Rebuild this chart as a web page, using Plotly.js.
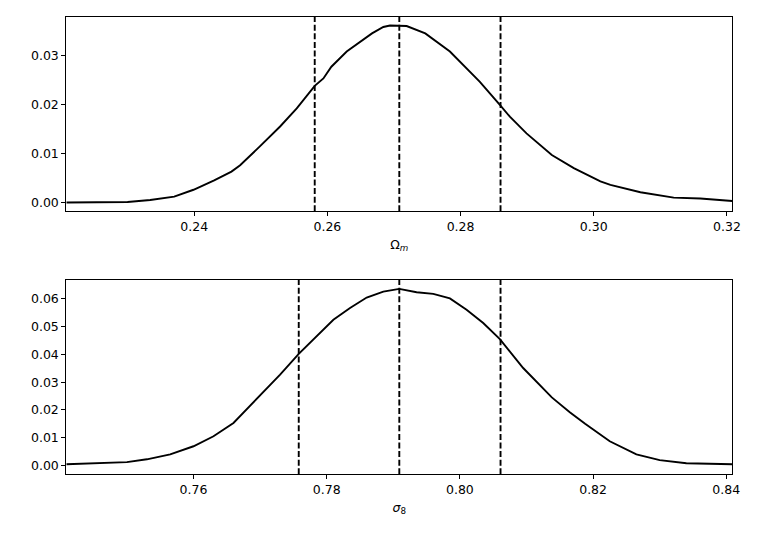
<!DOCTYPE html>
<html>
<head>
<meta charset="utf-8">
<script src="https://cdn.plot.ly/plotly-3.0.1.min.js"></script>
<style>html,body{margin:0;padding:0;background:#fff;}#chart{width:764px;height:541px;}</style>
</head>
<body>
<div id="chart"></div>
<script>
// Omega_m posterior
const omX = [0.2208, 0.2250, 0.2300, 0.2334, 0.2370, 0.2399, 0.2430, 0.2456, 0.2469, 0.2499,
             0.2529, 0.2554, 0.2581, 0.2594, 0.2606, 0.2629, 0.2649, 0.2667, 0.2684, 0.2694,
             0.2719, 0.2747, 0.2784, 0.2799, 0.2829, 0.2859, 0.2874, 0.2899, 0.2937, 0.2970,
             0.3010, 0.3025, 0.3070, 0.3120, 0.3160, 0.3208];
const omY = [0.0000, 0.0000, 0.0001, 0.0005, 0.0012, 0.0026, 0.0045, 0.0063, 0.0076, 0.0115,
             0.0155, 0.0192, 0.0238, 0.0253, 0.0277, 0.0308, 0.0328, 0.0345, 0.0358, 0.0361,
             0.0360, 0.0345, 0.0308, 0.0287, 0.0246, 0.0199, 0.0175, 0.0141, 0.0097, 0.0070,
             0.0043, 0.0036, 0.0021, 0.0010, 0.0008, 0.0003];
const omLines = [0.2581, 0.2708, 0.2860];

// sigma_8 posterior
const s8X = [0.7409, 0.7500, 0.7530, 0.7565, 0.7600, 0.7630, 0.7660, 0.7690, 0.7730, 0.7758,
             0.7810, 0.7835, 0.7860, 0.7885, 0.7909, 0.7935, 0.7960, 0.7985, 0.8010, 0.8035,
             0.8060, 0.8095, 0.8138, 0.8165, 0.8188, 0.8225, 0.8265, 0.8300, 0.8340, 0.8409];
const s8Y = [0.0004, 0.0012, 0.0022, 0.0040, 0.0069, 0.0105, 0.0153, 0.0228, 0.0327, 0.0402,
             0.0525, 0.0567, 0.0605, 0.0626, 0.0636, 0.0624, 0.0618, 0.0602, 0.0561, 0.0513,
             0.0455, 0.0351, 0.0245, 0.0192, 0.0150, 0.0087, 0.0040, 0.0019, 0.0008, 0.0004];
const s8Lines = [0.7758, 0.7909, 0.8061];

const omXTicks = [0.24, 0.26, 0.28, 0.30, 0.32];
const omYTicks = [0.00, 0.01, 0.02, 0.03];
const s8XTicks = [0.76, 0.78, 0.80, 0.82, 0.84];
const s8YTicks = [0.00, 0.01, 0.02, 0.03, 0.04, 0.05, 0.06];

const font = {family: 'DejaVu Sans', size: 12.5, color: '#000'};

const traces = [
  {x: omX, y: omY, xaxis: 'x', yaxis: 'y', mode: 'lines', line: {color: '#000', width: 1.9}, hoverinfo: 'skip'},
  {x: s8X, y: s8Y, xaxis: 'x2', yaxis: 'y2', mode: 'lines', line: {color: '#000', width: 1.9}, hoverinfo: 'skip'}
];

const shapes = [];
omLines.forEach(v => shapes.push({type: 'line', xref: 'x', yref: 'y domain', x0: v, x1: v, y0: 0, y1: 1,
  line: {color: '#000', width: 1.9, dash: '6px,2.6px'}}));
s8Lines.forEach(v => shapes.push({type: 'line', xref: 'x2', yref: 'y2 domain', x0: v, x1: v, y0: 0, y1: 1,
  line: {color: '#000', width: 1.9, dash: '6px,2.6px'}}));

function ax(extra) {
  return Object.assign({
    showgrid: false, zeroline: false, showline: true, mirror: true,
    linecolor: '#000', linewidth: 1, ticks: 'outside', ticklen: 4, tickwidth: 1,
    tickcolor: '#000', tickfont: font, tickmode: 'array', tickformat: '.2f', automargin: false
  }, extra);
}

const layout = {
  width: 764, height: 541,
  margin: {l: 0, r: 0, t: 0, b: 0},
  paper_bgcolor: '#fff', plot_bgcolor: '#fff',
  showlegend: false,
  font: font,
  xaxis: ax({domain: [0.0868, 0.9585], range: [0.2208, 0.3208], tickvals: omXTicks, anchor: 'y',
             title: {text: 'Ω<sub><i>m</i></sub>', font: font, standoff: 6}}),
  yaxis: ax({domain: [0.6094, 0.9691], range: [-0.0018, 0.0379], tickvals: omYTicks, anchor: 'x'}),
  xaxis2: ax({domain: [0.0868, 0.9585], range: [0.7409, 0.8409], tickvals: s8XTicks, anchor: 'y2',
             title: {text: '<i>σ</i><sub>8</sub>', font: font, standoff: 6}}),
  yaxis2: ax({domain: [0.1233, 0.4824], range: [-0.0032, 0.0668], tickvals: s8YTicks, anchor: 'x2'}),
  shapes: shapes
};

Plotly.newPlot('chart', traces, layout, {displayModeBar: false, staticPlot: true});
</script>
</body>
</html>
